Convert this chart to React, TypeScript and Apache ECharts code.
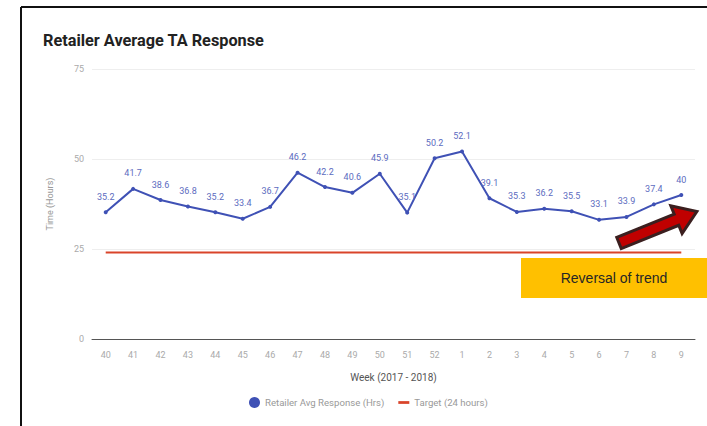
import React, { useEffect, useRef } from "react";
import * as echarts from "echarts";

const weeks = ["40","41","42","43","44","45","46","47","48","49","50","51","52","1","2","3","4","5","6","7","8","9"];
const responseHrs = [35.2,41.7,38.6,36.8,35.2,33.4,36.7,46.2,42.2,40.6,45.9,35.1,50.2,52.1,39.1,35.3,36.2,35.5,33.1,33.9,37.4,40];
const targetHrs = weeks.map(() => 24);
const yTicks = [0, 25, 50, 75];

const FONT = "Roboto, 'Noto Sans', sans-serif";

export default function App() {
  const ref = useRef<HTMLDivElement>(null);
  useEffect(() => {
    if (!ref.current) return;
    const chart = echarts.init(ref.current, undefined, { renderer: "svg" });
    const L = 84, sh = 6, hl = 22, hh = 15;
    const arrowPts = [
      [0, -sh], [L - hl, -sh], [L - hl, -hh], [L, 0], [L - hl, hh], [L - hl, sh], [0, sh],
    ];
    chart.setOption({
      animation: false,
      backgroundColor: "#ffffff",
      textStyle: { fontFamily: FONT },
      title: {
        text: "Retailer Average TA Response",
        left: 38,
        top: 27,
        textStyle: { fontFamily: FONT, fontSize: 16.3, fontWeight: "bold", color: "#222" },
      },
      grid: { left: 92, right: 12, top: 69, bottom: 87, containLabel: false },
      legend: {
        bottom: 13,
        left: 244,
        itemWidth: 11,
        itemHeight: 11,
        itemGap: 14,
        textStyle: { fontSize: 9.6, color: "#999", fontFamily: FONT },
        data: [
          { name: "Retailer Avg Response (Hrs)", icon: "circle" },
          { name: "Target (24 hours)", icon: "path://M0,4h12v3h-12z" },
        ],
      },
      xAxis: {
        type: "category",
        data: weeks,
        boundaryGap: true,
        name: "Week (2017 - 2018)",
        nameLocation: "middle",
        nameGap: 33,
        nameTextStyle: { fontSize: 10, color: "#555", fontFamily: FONT },
        axisLine: { lineStyle: { color: "#555", width: 1 } },
        axisTick: { show: false },
        axisLabel: { fontSize: 9, color: "#aaa", margin: 11, fontFamily: FONT },
      },
      yAxis: {
        type: "value",
        min: yTicks[0],
        max: yTicks[yTicks.length - 1],
        interval: 25,
        name: "Time (Hours)",
        nameLocation: "middle",
        nameGap: 38,
        nameTextStyle: { fontSize: 9, color: "#999", fontFamily: FONT },
        axisLine: { show: false },
        axisTick: { show: false },
        axisLabel: { fontSize: 9, color: "#aaa", margin: 8, fontFamily: FONT },
        splitLine: { lineStyle: { color: "#eeeeee" } },
      },
      series: [
        {
          name: "Retailer Avg Response (Hrs)",
          type: "line",
          data: responseHrs,
          color: "#3f51b5",
          lineStyle: { width: 2, color: "#3f51b5" },
          symbol: "circle",
          symbolSize: 4,
          label: {
            show: true,
            position: "top",
            distance: 9,
            fontSize: 9,
            color: "#5c6bc0",
            fontFamily: FONT,
          },
          z: 3,
        },
        {
          name: "Target (24 hours)",
          type: "line",
          data: targetHrs,
          color: "#d9442a",
          lineStyle: { width: 2, color: "#d9442a" },
          showSymbol: false,
          symbol: "none",
          z: 2,
        },
      ],
      graphic: [
        { type: "line", shape: { x1: 21, y1: 7, x2: 707, y2: 7 }, style: { stroke: "#111", lineWidth: 2 } },
        { type: "line", shape: { x1: 21, y1: 7, x2: 21, y2: 426 }, style: { stroke: "#111", lineWidth: 2 } },
        {
          type: "rect",
          shape: { x: 521, y: 258, width: 186, height: 40 },
          style: { fill: "#ffc000" },
          z: 10,
        },
        {
          type: "text",
          x: 614,
          y: 278,
          style: {
            text: "Reversal of trend",
            fontSize: 14,
            fontFamily: "'Liberation Sans', Arial, sans-serif",
            fill: "#262626",
            align: "center",
            verticalAlign: "middle",
          },
          z: 11,
        },
        {
          type: "polygon",
          x: 619,
          y: 243,
          rotation: (22 * Math.PI) / 180,
          shape: { points: arrowPts },
          style: { fill: "#c00000", stroke: "#3b1f1f", lineWidth: 3, lineJoin: "miter" },
          z: 12,
        },
      ],
    });
    return () => chart.dispose();
  }, []);
  return <div ref={ref} style={{ position: "fixed", left: 0, top: 0, width: 707, height: 426 }} />;
}
